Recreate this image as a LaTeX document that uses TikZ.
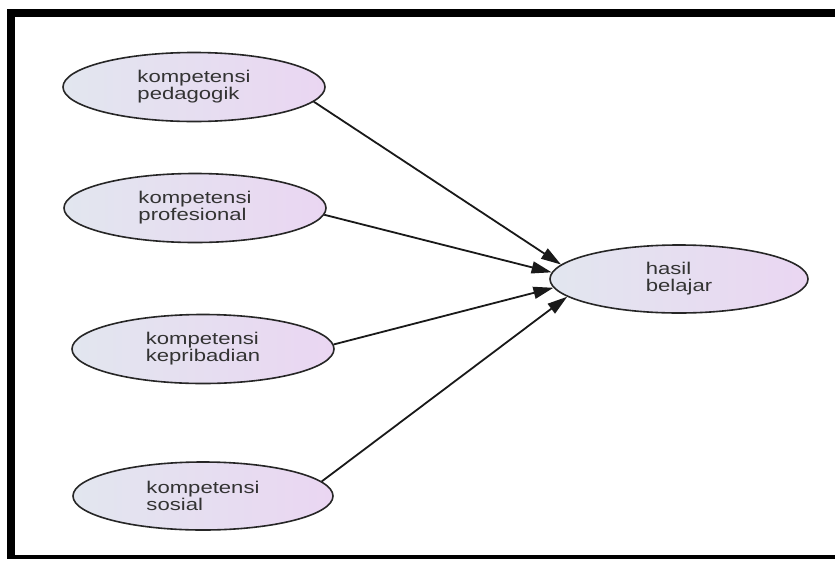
\documentclass[tikz,border=0pt]{standalone}
\usepackage{fontspec}
\newfontfamily\labelfont[FakeStretch=1.3]{Liberation Sans}
\usetikzlibrary{shapes.geometric, arrows.meta}
\definecolor{leftfill}{RGB}{226,230,239}
\definecolor{rightfill}{RGB}{234,214,242}

\begin{document}
\begin{tikzpicture}[x=1pt, y=-1pt,
        every node/.style={ellipse, draw=black!85, line width=1.6pt, left color=leftfill, right color=rightfill,
            minimum width=262pt, minimum height=69pt, inner sep=0pt, align=left, text=black!80,
            font=\labelfont\fontsize{17pt}{17pt}\selectfont},
        link/.style={draw=black!90, line width=1.8pt, -{Triangle[length=20pt,width=12pt]}}]

        \useasboundingbox (0,0) rectangle (835,563);
        \fill[white] (0,0) rectangle (835,563);
        % frame
        \draw[line width=8pt] (835,13) -| (11,559);
        \draw[line width=4pt] (7,557) -- (835,557);

        \node (pedagogik) at (194,87) {kompetensi\\pedagogik};
        \node (profesional) at (195,208) {kompetensi\\profesional};
        \node (kepribadian) at (203,349) {kompetensi\\kepribadian};
        \node[minimum width=260pt, minimum height=68pt] (sosial) at (203,496) {kompetensi\\sosial};
        \node[minimum width=258pt, minimum height=68pt] (hasil) at (679,279) {hasil\\belajar};

        \draw[link] (pedagogik.353) -- (hasil.173);
        \draw[link] (profesional.357) -- (hasil.177);
        \draw[link] (kepribadian.2) -- (hasil.184);
        \draw[link] (sosial.7) -- (hasil.189);
\end{tikzpicture}
\end{document}
